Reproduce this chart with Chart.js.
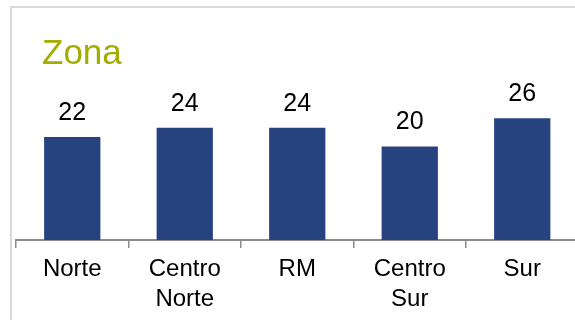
<!DOCTYPE html>
<html>
<head>
<meta charset="utf-8">
<script src="https://cdn.jsdelivr.net/npm/chart.js@4/dist/chart.umd.min.js"></script>
<style>
  html, body { margin: 0; padding: 0; background: #fff; overflow: hidden; }
  #wrap { position: absolute; left: 0; top: 0; width: 582px; height: 320px; }
</style>
</head>
<body>
<div id="wrap"><canvas id="zonaChart" width="582" height="320"></canvas></div>
<script>
const zonas = [['Norte'], ['Centro', 'Norte'], ['RM'], ['Centro', 'Sur'], ['Sur']];
const porcentajes = [22, 24, 24, 20, 26];
const titulo = 'Zona';
const yMax = 30;

const FONT = "'Liberation Sans', Arial, sans-serif";

// marco gris y titulo
const frameTitle = {
    id: 'frameTitle',
    beforeDraw(chart) {
        const c = chart.ctx;
        c.save();
        c.strokeStyle = '#d9d9d9';
        c.lineWidth = 2;
        c.beginPath();
        c.moveTo(11, 330);
        c.lineTo(11, 7);
        c.lineTo(chart.width + 5, 7);
        c.stroke();
        c.fillStyle = '#a3ad00';
        c.font = '35px ' + FONT;
        c.textBaseline = 'alphabetic';
        c.fillText(titulo, 42, 64);
        c.restore();
    }
};

// etiquetas de valor sobre cada barra
const valueLabels = {
    id: 'valueLabels',
    afterDatasetsDraw(chart) {
        const c = chart.ctx;
        const meta = chart.getDatasetMeta(0);
        c.save();
        c.fillStyle = '#000';
        c.font = '25px ' + FONT;
        c.textAlign = 'center';
        c.textBaseline = 'alphabetic';
        meta.data.forEach((bar, i) => {
            c.fillText(porcentajes[i], bar.x, bar.y - 17);
        });
        c.restore();
    }
};

new Chart(document.getElementById('zonaChart').getContext('2d'), {
    type: 'bar',
    data: {
        labels: zonas,
        datasets: [{
            data: porcentajes,
            backgroundColor: '#26427f',
            borderWidth: 0,
            barPercentage: 0.5,
            categoryPercentage: 1
        }]
    },
    options: {
        responsive: false,
        devicePixelRatio: 1,
        animation: false,
        layout: { padding: { left: 16, right: 3.5, top: 99.6, bottom: 0 } },
        plugins: {
            legend: { display: false },
            tooltip: { enabled: false }
        },
        scales: {
            y: { display: false, min: 0, max: yMax },
            x: {
                afterFit(scale) { scale.height = 80; },
                grid: {
                    offset: true,
                    drawOnChartArea: false,
                    drawTicks: true,
                    tickLength: 8,
                    color: '#8c8c8c',
                    lineWidth: 1.5
                },
                border: { display: true, color: '#8c8c8c', width: 2 },
                ticks: {
                    color: '#000',
                    font: { family: FONT, size: 24, lineHeight: 1.25 },
                    padding: 6,
                    maxRotation: 0,
                    autoSkip: false
                }
            }
        }
    },
    plugins: [frameTitle, valueLabels]
});
</script>
</body>
</html>
